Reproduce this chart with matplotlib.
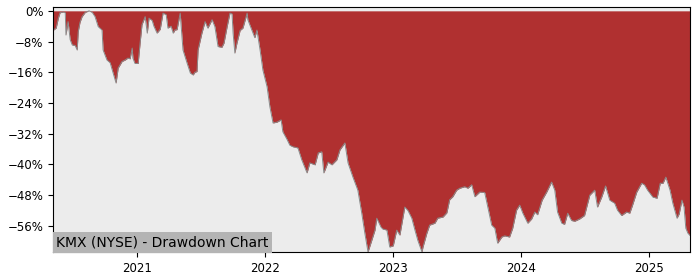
import matplotlib
matplotlib.use("Agg")
import matplotlib.pyplot as plt
import matplotlib.dates as mdates
from matplotlib.ticker import FuncFormatter, MultipleLocator
import pandas as pd

title = "KMX (NYSE) - Drawdown Chart"

dates = [
    "2020-05-05", "2020-05-14", "2020-05-20", "2020-05-25", "2020-06-03", "2020-06-09", "2020-06-11",
    "2020-06-17", "2020-06-23", "2020-06-29", "2020-07-07", "2020-07-13", "2020-07-16", "2020-07-21",
    "2020-07-27", "2020-08-05", "2020-08-16", "2020-08-25", "2020-09-02", "2020-09-11", "2020-09-22",
    "2020-09-25", "2020-10-06", "2020-10-15", "2020-10-21", "2020-11-01", "2020-11-07", "2020-11-18",
    "2020-11-27", "2020-12-05", "2020-12-11", "2020-12-17", "2020-12-19", "2020-12-25",
    "2021-01-03", "2021-01-09", "2021-01-14", "2021-01-23", "2021-01-29", "2021-02-03", "2021-02-12",
    "2021-02-17", "2021-02-26", "2021-03-07", "2021-03-15", "2021-03-24", "2021-03-29", "2021-04-07",
    "2021-04-13", "2021-04-18", "2021-04-24", "2021-05-03", "2021-05-05", "2021-05-11", "2021-05-23",
    "2021-06-01", "2021-06-09", "2021-06-14", "2021-06-20", "2021-06-23", "2021-07-04", "2021-07-13",
    "2021-07-21", "2021-08-02", "2021-08-10", "2021-08-19", "2021-08-30", "2021-09-05", "2021-09-14",
    "2021-09-22", "2021-09-28", "2021-10-01", "2021-10-06", "2021-10-12", "2021-10-21", "2021-10-29",
    "2021-11-10", "2021-11-12", "2021-11-24", "2021-12-02", "2021-12-08", "2021-12-17", "2021-12-25",
    "2022-01-06", "2022-01-14", "2022-01-23", "2022-02-03", "2022-02-15", "2022-02-20", "2022-03-04",
    "2022-03-12", "2022-03-21", "2022-04-04", "2022-04-15", "2022-04-30", "2022-05-08", "2022-05-23",
    "2022-06-01", "2022-06-11", "2022-06-17", "2022-06-29", "2022-07-10", "2022-07-24", "2022-08-02",
    "2022-08-16", "2022-08-25", "2022-09-08", "2022-09-22", "2022-10-03", "2022-10-12", "2022-10-21",
    "2022-11-01", "2022-11-10", "2022-11-15", "2022-11-27", "2022-12-02", "2022-12-14", "2022-12-22",
    "2023-01-01", "2023-01-11", "2023-01-20", "2023-02-03", "2023-02-12", "2023-02-23", "2023-03-04",
    "2023-03-12", "2023-03-24", "2023-03-27", "2023-04-07", "2023-04-15", "2023-04-30", "2023-05-08",
    "2023-05-23", "2023-06-03", "2023-06-11", "2023-06-20", "2023-07-01", "2023-07-10", "2023-07-24",
    "2023-08-02", "2023-08-13", "2023-08-22", "2023-09-05", "2023-09-19", "2023-09-28", "2023-10-09",
    "2023-10-18", "2023-10-26", "2023-11-07", "2023-11-15", "2023-11-29", "2023-12-08", "2023-12-19",
    "2023-12-28", "2024-01-06", "2024-01-20", "2024-01-31", "2024-02-09", "2024-02-17", "2024-03-01",
    "2024-03-14", "2024-03-28", "2024-04-06", "2024-04-14", "2024-04-26", "2024-05-04", "2024-05-13",
    "2024-05-24", "2024-06-02", "2024-06-16", "2024-06-30", "2024-07-15", "2024-07-29", "2024-08-06",
    "2024-08-18", "2024-08-29", "2024-09-10", "2024-09-24", "2024-10-02", "2024-10-14", "2024-10-28",
    "2024-11-06", "2024-11-14", "2024-11-26", "2024-12-10", "2024-12-18", "2024-12-27", "2025-01-11",
    "2025-01-23", "2025-02-01", "2025-02-09", "2025-02-17", "2025-03-01", "2025-03-09", "2025-03-21",
    "2025-03-27", "2025-04-04", "2025-04-10", "2025-04-15", "2025-04-21", "2025-04-27",
]

drawdown = [
    -5.1, -4.5, -2.0, -0.5, -0.3, -0.5, -6.3,
    -2.8, -7.5, -8.9, -9.0, -10.2, -5.4, -3.0,
    -1.5, -0.4, 0.0, -0.4, -1.5, -4.1, -5.0,
    -10.2, -12.8, -13.5, -15.4, -18.8, -14.9, -13.2,
    -12.8, -12.3, -12.5, -9.7, -12.3, -13.7,
    -13.7, -8.0, -3.6, -1.5, -5.8, -1.9, -2.5,
    -4.0, -5.8, -4.8, -0.6, -1.0, -4.5, -4.0,
    -5.8, -5.0, -4.9, -0.6, -3.0, -10.2, -13.7,
    -16.2, -16.7, -16.0, -15.8, -10.2, -5.8, -2.8,
    -4.5, -2.3, -4.1, -9.3, -9.5, -8.4, -4.1,
    -0.6, -0.8, -5.8, -11.0, -8.4, -5.1, -4.5,
    -0.6, -2.3, -5.1, -7.0, -5.0, -10.2, -15.4,
    -19.8, -25.0, -29.2, -29.0, -28.4, -31.5, -33.5,
    -35.0, -35.4, -35.7, -38.8, -42.2, -39.6, -40.1,
    -37.0, -36.7, -42.2, -39.4, -40.1, -38.8, -36.2,
    -34.4, -39.6, -43.3, -46.7, -52.6, -57.9, -62.8,
    -59.7, -57.1, -54.0, -56.3, -56.8, -57.1, -61.5,
    -61.2, -57.1, -58.4, -51.1, -52.0, -54.0, -57.1,
    -59.7, -62.8, -61.5, -57.9, -55.8, -55.3, -54.0,
    -53.7, -52.6, -49.2, -48.4, -46.7, -46.2, -45.8,
    -46.2, -45.3, -48.4, -47.2, -47.3, -51.1, -55.8,
    -56.6, -60.5, -58.9, -58.6, -58.9, -56.6, -51.9,
    -50.6, -52.7, -55.3, -54.2, -52.4, -53.1, -49.3,
    -47.2, -44.6, -46.7, -52.4, -55.3, -55.6, -52.7,
    -54.6, -54.8, -54.2, -53.3, -48.0, -46.7, -51.1,
    -48.5, -45.6, -49.3, -50.1, -51.9, -53.3, -52.4,
    -52.7, -50.6, -47.2, -44.9, -45.3, -46.7, -48.5,
    -48.8, -44.9, -44.9, -43.3, -46.7, -50.1, -54.0,
    -52.9, -49.3, -51.1, -56.6, -57.9, -58.5,
]

yticks = [0, -8, -16, -24, -32, -40, -48, -56]

x = pd.to_datetime(dates)

fig = plt.figure(figsize=(7, 2.8), dpi=100)
ax = fig.add_axes([53 / 700, 1 - 252 / 280, (690 - 53) / 700, (252 - 7) / 280])
ax.set_facecolor("#ececec")
ax.fill_between(x, drawdown, 0, color="#b03030", linewidth=0)
ax.plot(x, drawdown, color="#8a8a8a", linewidth=0.7)

ax.set_xlim(x[0], x[-1])
ax.set_ylim(min(drawdown), 1.0)
ax.set_yticks(yticks)
ax.yaxis.set_major_formatter(FuncFormatter(lambda v, p: f"{int(v)}%".replace("-", "\u2212")))
ax.xaxis.set_major_locator(mdates.YearLocator())
ax.xaxis.set_major_formatter(mdates.DateFormatter("%Y"))
ax.tick_params(labelsize=8.5)

ax.text(0.005, 0.012, title, transform=ax.transAxes, fontsize=10, ha="left", va="bottom",
        bbox=dict(facecolor="#b4b4b4", edgecolor="none", pad=2.5))

fig.savefig("out.png", dpi=100)
